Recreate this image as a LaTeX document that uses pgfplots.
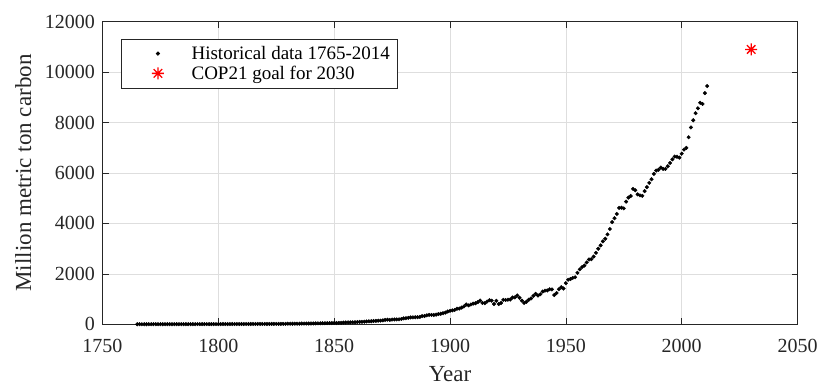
\documentclass[border=0pt]{standalone}
\usepackage{fontspec}
\setmainfont{Liberation Serif}
\usepackage{pgfplots}
\usepackage{pgfplotstable}
\pgfplotsset{compat=1.18}
\pgfdeclareplotmark{star8}{%
  \pgfpathmoveto{\pgfqpoint{-\pgfplotmarksize}{0pt}}\pgfpathlineto{\pgfqpoint{\pgfplotmarksize}{0pt}}%
  \pgfpathmoveto{\pgfqpoint{0pt}{-\pgfplotmarksize}}\pgfpathlineto{\pgfqpoint{0pt}{\pgfplotmarksize}}%
  \pgfpathmoveto{\pgfqpoint{-0.7071\pgfplotmarksize}{-0.7071\pgfplotmarksize}}\pgfpathlineto{\pgfqpoint{0.7071\pgfplotmarksize}{0.7071\pgfplotmarksize}}%
  \pgfpathmoveto{\pgfqpoint{-0.7071\pgfplotmarksize}{0.7071\pgfplotmarksize}}\pgfpathlineto{\pgfqpoint{0.7071\pgfplotmarksize}{-0.7071\pgfplotmarksize}}%
  \pgfusepathqstroke}
\pgfplotstableread[row sep=\\]{
year val\\
1765 3\\ 1766 3\\ 1767 3\\ 1768 3\\ 1769 3\\ 1770 4\\ 1771 4\\ 1772 4\\ 1773 4\\ 1774 4\\
1775 4\\ 1776 4\\ 1777 4\\ 1778 4\\ 1779 4\\ 1780 5\\ 1781 5\\ 1782 5\\ 1783 5\\ 1784 5\\
1785 5\\ 1786 5\\ 1787 5\\ 1788 5\\ 1789 5\\ 1790 5\\ 1791 6\\ 1792 6\\ 1793 6\\ 1794 6\\
1795 6\\ 1796 6\\ 1797 7\\ 1798 7\\ 1799 7\\ 1800 8\\ 1801 8\\ 1802 10\\ 1803 9\\ 1804 9\\
1805 9\\ 1806 10\\ 1807 10\\ 1808 10\\ 1809 10\\ 1810 10\\ 1811 11\\ 1812 11\\ 1813 11\\ 1814 11\\
1815 12\\ 1816 13\\ 1817 14\\ 1818 14\\ 1819 14\\ 1820 14\\ 1821 14\\ 1822 15\\ 1823 16\\ 1824 16\\
1825 17\\ 1826 17\\ 1827 18\\ 1828 18\\ 1829 18\\ 1830 24\\ 1831 23\\ 1832 23\\ 1833 24\\ 1834 24\\
1835 25\\ 1836 29\\ 1837 29\\ 1838 30\\ 1839 31\\ 1840 33\\ 1841 34\\ 1842 36\\ 1843 37\\ 1844 39\\
1845 43\\ 1846 43\\ 1847 46\\ 1848 47\\ 1849 50\\ 1850 54\\ 1851 54\\ 1852 57\\ 1853 59\\ 1854 69\\
1855 71\\ 1856 76\\ 1857 77\\ 1858 78\\ 1859 83\\ 1860 91\\ 1861 95\\ 1862 97\\ 1863 104\\ 1864 112\\
1865 119\\ 1866 122\\ 1867 130\\ 1868 135\\ 1869 142\\ 1870 147\\ 1871 156\\ 1872 173\\ 1873 184\\ 1874 174\\
1875 188\\ 1876 191\\ 1877 194\\ 1878 196\\ 1879 210\\ 1880 236\\ 1881 243\\ 1882 256\\ 1883 272\\ 1884 275\\
1885 277\\ 1886 281\\ 1887 295\\ 1888 327\\ 1889 327\\ 1890 356\\ 1891 372\\ 1892 374\\ 1893 370\\ 1894 383\\
1895 406\\ 1896 419\\ 1897 440\\ 1898 465\\ 1899 507\\ 1900 534\\ 1901 552\\ 1902 566\\ 1903 617\\ 1904 624\\
1905 663\\ 1906 707\\ 1907 784\\ 1908 750\\ 1909 785\\ 1910 819\\ 1911 836\\ 1912 879\\ 1913 943\\ 1914 850\\
1915 838\\ 1916 901\\ 1917 955\\ 1918 936\\ 1919 806\\ 1920 932\\ 1921 803\\ 1922 845\\ 1923 970\\ 1924 963\\
1925 975\\ 1926 983\\ 1927 1062\\ 1928 1065\\ 1929 1145\\ 1930 1053\\ 1931 940\\ 1932 847\\ 1933 893\\ 1934 973\\
1935 1027\\ 1936 1130\\ 1937 1209\\ 1938 1142\\ 1939 1192\\ 1940 1299\\ 1941 1334\\ 1942 1342\\ 1943 1391\\ 1944 1383\\
1945 1160\\ 1946 1238\\ 1947 1392\\ 1948 1469\\ 1949 1419\\ 1950 1630\\ 1951 1767\\ 1952 1795\\ 1953 1841\\ 1954 1865\\
1955 2042\\ 1956 2177\\ 1957 2270\\ 1958 2330\\ 1959 2454\\ 1960 2569\\ 1961 2580\\ 1962 2686\\ 1963 2833\\ 1964 2995\\
1965 3130\\ 1966 3288\\ 1967 3393\\ 1968 3566\\ 1969 3780\\ 1970 4053\\ 1971 4208\\ 1972 4376\\ 1973 4614\\ 1974 4623\\
1975 4596\\ 1976 4864\\ 1977 5026\\ 1978 5087\\ 1979 5369\\ 1980 5315\\ 1981 5152\\ 1982 5113\\ 1983 5094\\ 1984 5280\\
1985 5439\\ 1986 5607\\ 1987 5752\\ 1988 5965\\ 1989 6097\\ 1990 6127\\ 1991 6217\\ 1992 6164\\ 1993 6162\\ 1994 6266\\
1995 6398\\ 1996 6542\\ 1997 6651\\ 1998 6643\\ 1999 6610\\ 2000 6765\\ 2001 6927\\ 2002 6996\\ 2003 7416\\ 2004 7807\\
2005 8093\\ 2006 8370\\ 2007 8566\\ 2008 8783\\ 2009 8740\\ 2010 9167\\ 2011 9449\\
}\hist
\begin{document}
\begin{tikzpicture}
\path[use as bounding box] (-102.5pt,-60.7pt) rectangle (718.5pt,324.3pt);
\begin{axis}[
  at={(0pt,0pt)}, anchor=south west,
  scale only axis, width=695pt, height=302.6pt,
  xmin=1750, xmax=2050, ymin=0, ymax=12000,
  xtick={1750,1800,1850,1900,1950,2000,2050},
  ytick={0,2000,4000,6000,8000,10000,12000},
  scaled y ticks=false,
  /pgf/number format/set thousands separator={},
  /pgf/number format/assume math mode=true,
  tick label style={font=\fontsize{20}{24}\selectfont, color=black!85},
  xticklabel style={anchor=base, yshift=-28.4pt},
  yticklabel style={anchor=east, xshift=-4pt},
  label style={font=\fontsize{23}{27}\selectfont, color=black!85},
  xlabel={Year}, ylabel={Million metric ton carbon},
  xlabel style={at={(axis description cs:0.5,0)}, anchor=base, yshift=-57pt},
  ylabel style={at={(axis description cs:-0.1026,0.5)}, anchor=base, rotate=0},
  grid=major, major grid style={color=black!13, line width=0.5pt},
  tick align=inside, tick pos=both, major tick length=6pt,
  axis line style={black!85, line width=0.6pt},
  every tick/.style={black!85, line width=0.6pt},
  legend style={at={(axis description cs:0.0266,0.943)}, anchor=north west,
    draw=black!85, line width=0.6pt, inner xsep=5pt, inner ysep=5pt,
    font=\fontsize{19}{22}\selectfont, row sep=1pt, cells={anchor=west},
    nodes={inner sep=2pt}},
  legend image code/.code={\path (0pt,0pt) (62pt,0pt); \draw[#1] plot coordinates {(31pt,0pt)};},
]
\addplot[only marks, mark=*, mark size=1.8pt, black] table[x=year, y=val] {\hist};
\addlegendentry{Historical data 1765-2014}
\addplot[only marks, mark=star8, mark size=6pt, red, line width=1.3pt] coordinates {(2030,10900)};
\addlegendentry{COP21 goal for 2030}
\end{axis}
\end{tikzpicture}
\end{document}
